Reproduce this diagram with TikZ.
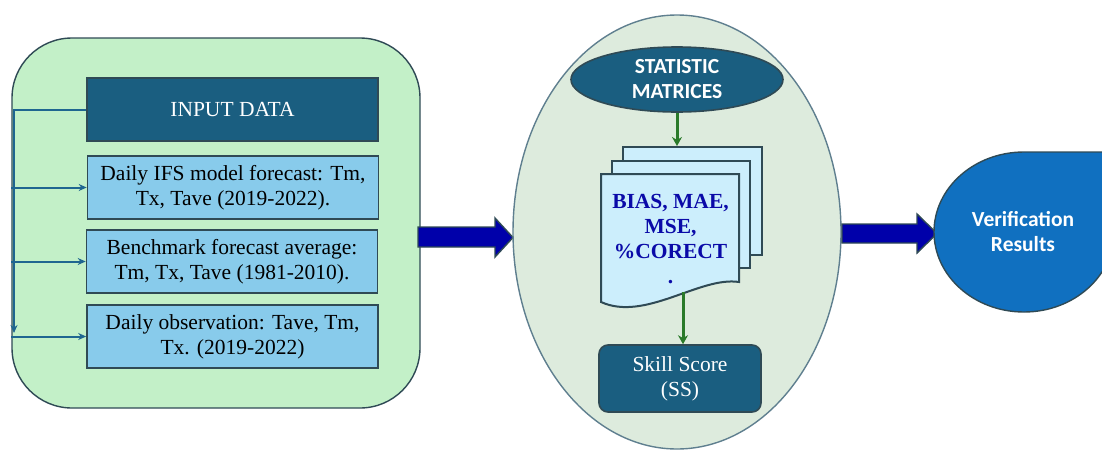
\documentclass[tikz,border=0pt]{standalone}
\usepackage{fontspec}
\setmainfont{Liberation Serif}
\newfontfamily\carlito{Carlito}
\usetikzlibrary{arrows.meta,shapes.geometric}
\definecolor{greenbg}{HTML}{C3F0C8}
\definecolor{darkteal}{HTML}{1A5E80}
\definecolor{lightblue}{HTML}{88CBEB}
\definecolor{ellbg}{HTML}{DDEBDD}
\definecolor{docbg}{HTML}{CCEEFC}
\definecolor{doctext}{HTML}{0A0AA8}
\definecolor{blockblue}{HTML}{0000AA}
\definecolor{verif}{HTML}{1070C0}
\definecolor{arrgreen}{HTML}{2A7A2A}
\definecolor{linkblue}{HTML}{1F6690}
\definecolor{edgecol}{HTML}{2F4A55}
\definecolor{elledge}{HTML}{5F7F8F}
\tikzset{
  txt/.style={font=\fontsize{21.5}{25}\selectfont},
  sanstxt/.style={font=\carlito\bfseries\fontsize{21.5}{25}\selectfont},
  inbox/.style={draw=edgecol, line width=1.6pt, minimum width=291pt, minimum height=63pt, align=center, inner sep=0pt, txt},
  link/.style={draw=linkblue, line width=2pt},
  linkarrow/.style={link, -{Stealth[length=8pt,width=7pt]}},
  garrow/.style={draw=arrgreen, line width=3pt, -{Stealth[length=9pt,width=10pt]}},
  blockarrow/.style={fill=blockblue, draw=edgecol, line width=1.4pt},
  docpage/.style={fill=docbg, draw=edgecol, line width=2pt},
}
\begin{document}
\begin{tikzpicture}[x=1pt,y=-1pt]
\useasboundingbox (0,0) rectangle (1102,450);
\clip (0,0) rectangle (1102,450);

% left panel
\node[draw=edgecol, fill=greenbg, rounded corners=60pt, minimum width=408pt, minimum height=370pt, line width=1.4pt] (panel) at (216,223) {};
\node[inbox, fill=darkteal, text=white] (input) at (232.5,109.5) {INPUT DATA};
\node[inbox, fill=lightblue] (b1) at (233,187.5) {Daily IFS model forecast: Tm,\\Tx, Tave (2019-2022).};
\node[inbox, fill=lightblue] (b2) at (232,261.5) {Benchmark forecast average:\\Tm, Tx, Tave (1981-2010).};
\node[inbox, fill=lightblue] (b3) at (232.5,336.5) {Daily observation: Tave, Tm,\\Tx. (2019-2022)};

\coordinate (vtop) at (14,109.5);
\coordinate (vbot) at (14,333);
\draw[linkarrow] (input.west) -- (vtop) -- (vbot);
\draw[linkarrow] (b1.west -| panel.west) -- (b1.west);
\draw[linkarrow] (b2.west -| panel.west) -- (b2.west);
\draw[linkarrow] (b3.west -| panel.west) -- (b3.west);

% block arrow 1
\draw[blockarrow] (418,227) -- (495,227) -- (495,218) -- (513,237.5) -- (495,257) -- (495,247) -- (418,247) -- cycle;

% central ellipse
\node[ellipse, draw=elledge, fill=ellbg, line width=1.4pt, minimum width=328pt, minimum height=434pt] (center) at (677,232) {};
\node[ellipse, draw=edgecol, fill=darkteal, line width=1.6pt, minimum width=212pt, minimum height=65pt, inner sep=0pt, align=center, text=white, sanstxt] (stat) at (677,79.5) {STATISTIC\\MATRICES};

% documents
\node[docpage, minimum width=139pt, minimum height=108pt] (page3) at (692.5,201) {};
\node[docpage, minimum width=138pt, minimum height=107pt] (page2) at (681,214.5) {};
\draw[docpage] (601,174) -- (739,174) -- (739,282) .. controls (700,276) and (645,322) .. (601,302) -- cycle;
\node[align=center, text=doctext, inner sep=0pt, font=\bfseries\fontsize{21.5}{25}\selectfont] (doc) at (670.5,239) {BIAS, MAE,\\MSE,\\\%CORECT\\.};
\coordinate (docbot) at (683,292);

\node[fill=darkteal, draw=edgecol, line width=1.6pt, rounded corners=9pt, minimum width=162pt, minimum height=67pt, inner sep=0pt, align=center, text=white, txt] (skill) at (680,378.5) {Skill Score\\(SS)};

\draw[garrow] (stat.south) -- (stat.south |- page3.north);
\draw[garrow] (docbot) -- (docbot |- skill.north);

% block arrow 2
\draw[blockarrow] (842,224) -- (917,224) -- (917,214) -- (937,233.5) -- (917,253) -- (917,243) -- (842,243) -- cycle;

% verification teardrop
\draw[fill=verif, draw=edgecol, line width=1.4pt] (1024,152) arc[start angle=270, end angle=0, x radius=90, y radius=80] -- (1114,152) -- cycle;
\node[align=center, text=white, sanstxt, inner sep=0pt] (verif) at (1023,232) {Verification\\Results};
\end{tikzpicture}
\end{document}
